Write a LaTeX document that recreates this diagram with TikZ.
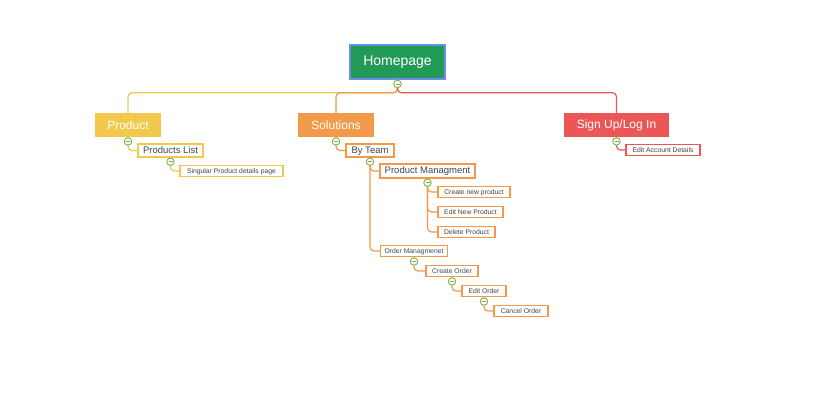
\documentclass[tikz,border=0pt]{standalone}
\usepackage{fontspec}
\setmainfont{Liberation Sans}
\usetikzlibrary{positioning}
\definecolor{homegreen}{HTML}{219A57}
\definecolor{homeblue}{HTML}{6B8DEB}
\definecolor{prodyellow}{HTML}{F2C94C}
\definecolor{solorange}{HTML}{F2994A}
\definecolor{signred}{HTML}{EB5757}
\definecolor{togglegreen}{HTML}{7CB342}
\definecolor{leaftext}{HTML}{444444}
\tikzset{
root/.style = { rectangle, draw = homeblue, line width = 1.5pt, fill = homegreen, text = white, font = \fontsize{14}{16}\selectfont, minimum width = 95pt, minimum height = 34pt },
branch/.style = { rectangle, fill = #1, text = white, font = \fontsize{12}{14}\selectfont, minimum height = 24pt, inner sep = 0pt },
sub/.style = { rectangle, draw = #1, line width = 1.1pt, fill = white, text = leaftext, font = \fontsize{9.5}{11}\selectfont, minimum height = 13pt, inner sep = 0pt, text height = 0.85em, text depth = 0.25em },
leaf/.style = { rectangle, draw = #1, line width = 1.1pt, fill = white, text = leaftext, font = \fontsize{6.8}{8}\selectfont, minimum height = 11.5pt, inner sep = 0pt, text height = 0.85em, text depth = 0.25em },
link/.style = { draw = #1, line width = 1.2pt, rounded corners = 4pt },
toggle/.style = { circle, draw = togglegreen, line width = 0.9pt, fill = white, minimum size = 7.5pt, inner sep = 0pt,
  path picture = { \draw[togglegreen, line width = 0.8pt] ([xshift = -2pt]path picture bounding box.center) -- ([xshift = 2pt]path picture bounding box.center); } },
}

\begin{document}
\begin{tikzpicture}[x = 1pt, y = -1pt]
    \useasboundingbox[fill = white] (0, 0) rectangle (828, 403);
    % root and main branches
    \node[root] (home) at (397.5, 62) {Homepage};
    \coordinate[below = 13pt of home] (hub);
    \node[branch = prodyellow, minimum width = 66pt] (product) at (128, 125) {Product};
    \node[branch = solorange, minimum width = 76pt] (solutions) at (336, 125) {Solutions};
    \node[branch = signred, minimum width = 105pt] (signup) at (616.5, 125) {Sign Up/Log In};
    % product subtree
    \node[sub = prodyellow, minimum width = 65pt] (plist) at (170.5, 150.5) {Products List};
    \node[leaf = prodyellow, minimum width = 103pt] (singular) at (231.5, 171) {Singular Product details page};
    % solutions subtree
    \node[sub = solorange, minimum width = 48pt] (byteam) at (370, 150.5) {By Team};
    \node[sub = solorange, minimum width = 95pt, minimum height = 14pt] (prodmgmt) at (427.5, 171) {Product Managment};
    \node[leaf = solorange, minimum width = 72pt] (newprod) at (474, 192) {Create new product};
    \node[leaf = solorange, minimum width = 65pt] (editprod) at (470.5, 212) {Edit New Product};
    \node[leaf = solorange, minimum width = 57pt] (delprod) at (466.5, 232) {Delete Product};
    \node[leaf = solorange, minimum width = 67pt] (ordmgmt) at (414, 251) {Order Managmenet};
    \node[leaf = solorange, minimum width = 52pt] (createord) at (452, 271) {Create Order};
    \node[leaf = solorange, minimum width = 44pt] (editord) at (484, 291) {Edit Order};
    \node[leaf = solorange, minimum width = 54pt] (cancelord) at (521, 311) {Cancel Order};
    % sign up subtree
    \node[leaf = signred, minimum width = 74pt] (editacc) at (663, 150) {Edit Account Details};
    % connectors
    \draw[link = prodyellow] (home.south) -- (hub) -| (product.north);
    \draw[link = solorange] (home.south) -- (hub) -| (solutions.north);
    \draw[link = signred] (home.south) -- (hub) -| (signup.north);
    \draw[link = prodyellow] (product.south) |- (plist.west);
    \draw[link = prodyellow] (plist.south) |- (singular.west);
    \draw[link = solorange] (solutions.south) |- (byteam.west);
    \draw[link = solorange] (byteam.south) |- (prodmgmt.west);
    \draw[link = solorange] (byteam.south) |- (ordmgmt.west);
    \draw[link = solorange] (prodmgmt.south) |- (newprod.west);
    \draw[link = solorange] (prodmgmt.south) |- (editprod.west);
    \draw[link = solorange] (prodmgmt.south) |- (delprod.west);
    \draw[link = solorange] (ordmgmt.south) |- (createord.west);
    \draw[link = solorange] (createord.south) |- (editord.west);
    \draw[link = solorange] (editord.south) |- (cancelord.west);
    \draw[link = signred] (signup.south) |- (editacc.west);
    % collapse toggles
    \node[toggle, below = 0pt of home] (thome) {};
    \node[toggle, below = 0pt of product] (tproduct) {};
    \node[toggle, below = 0pt of plist] (tplist) {};
    \node[toggle, below = 0pt of solutions] (tsolutions) {};
    \node[toggle, below = 0pt of byteam] (tbyteam) {};
    \node[toggle, below = 0pt of prodmgmt] (tprodmgmt) {};
    \node[toggle, below = 0pt of ordmgmt] (tordmgmt) {};
    \node[toggle, below = 0pt of createord] (tcreateord) {};
    \node[toggle, below = 0pt of editord] (teditord) {};
    \node[toggle, below = 0pt of signup] (tsignup) {};
\end{tikzpicture}
\end{document}
